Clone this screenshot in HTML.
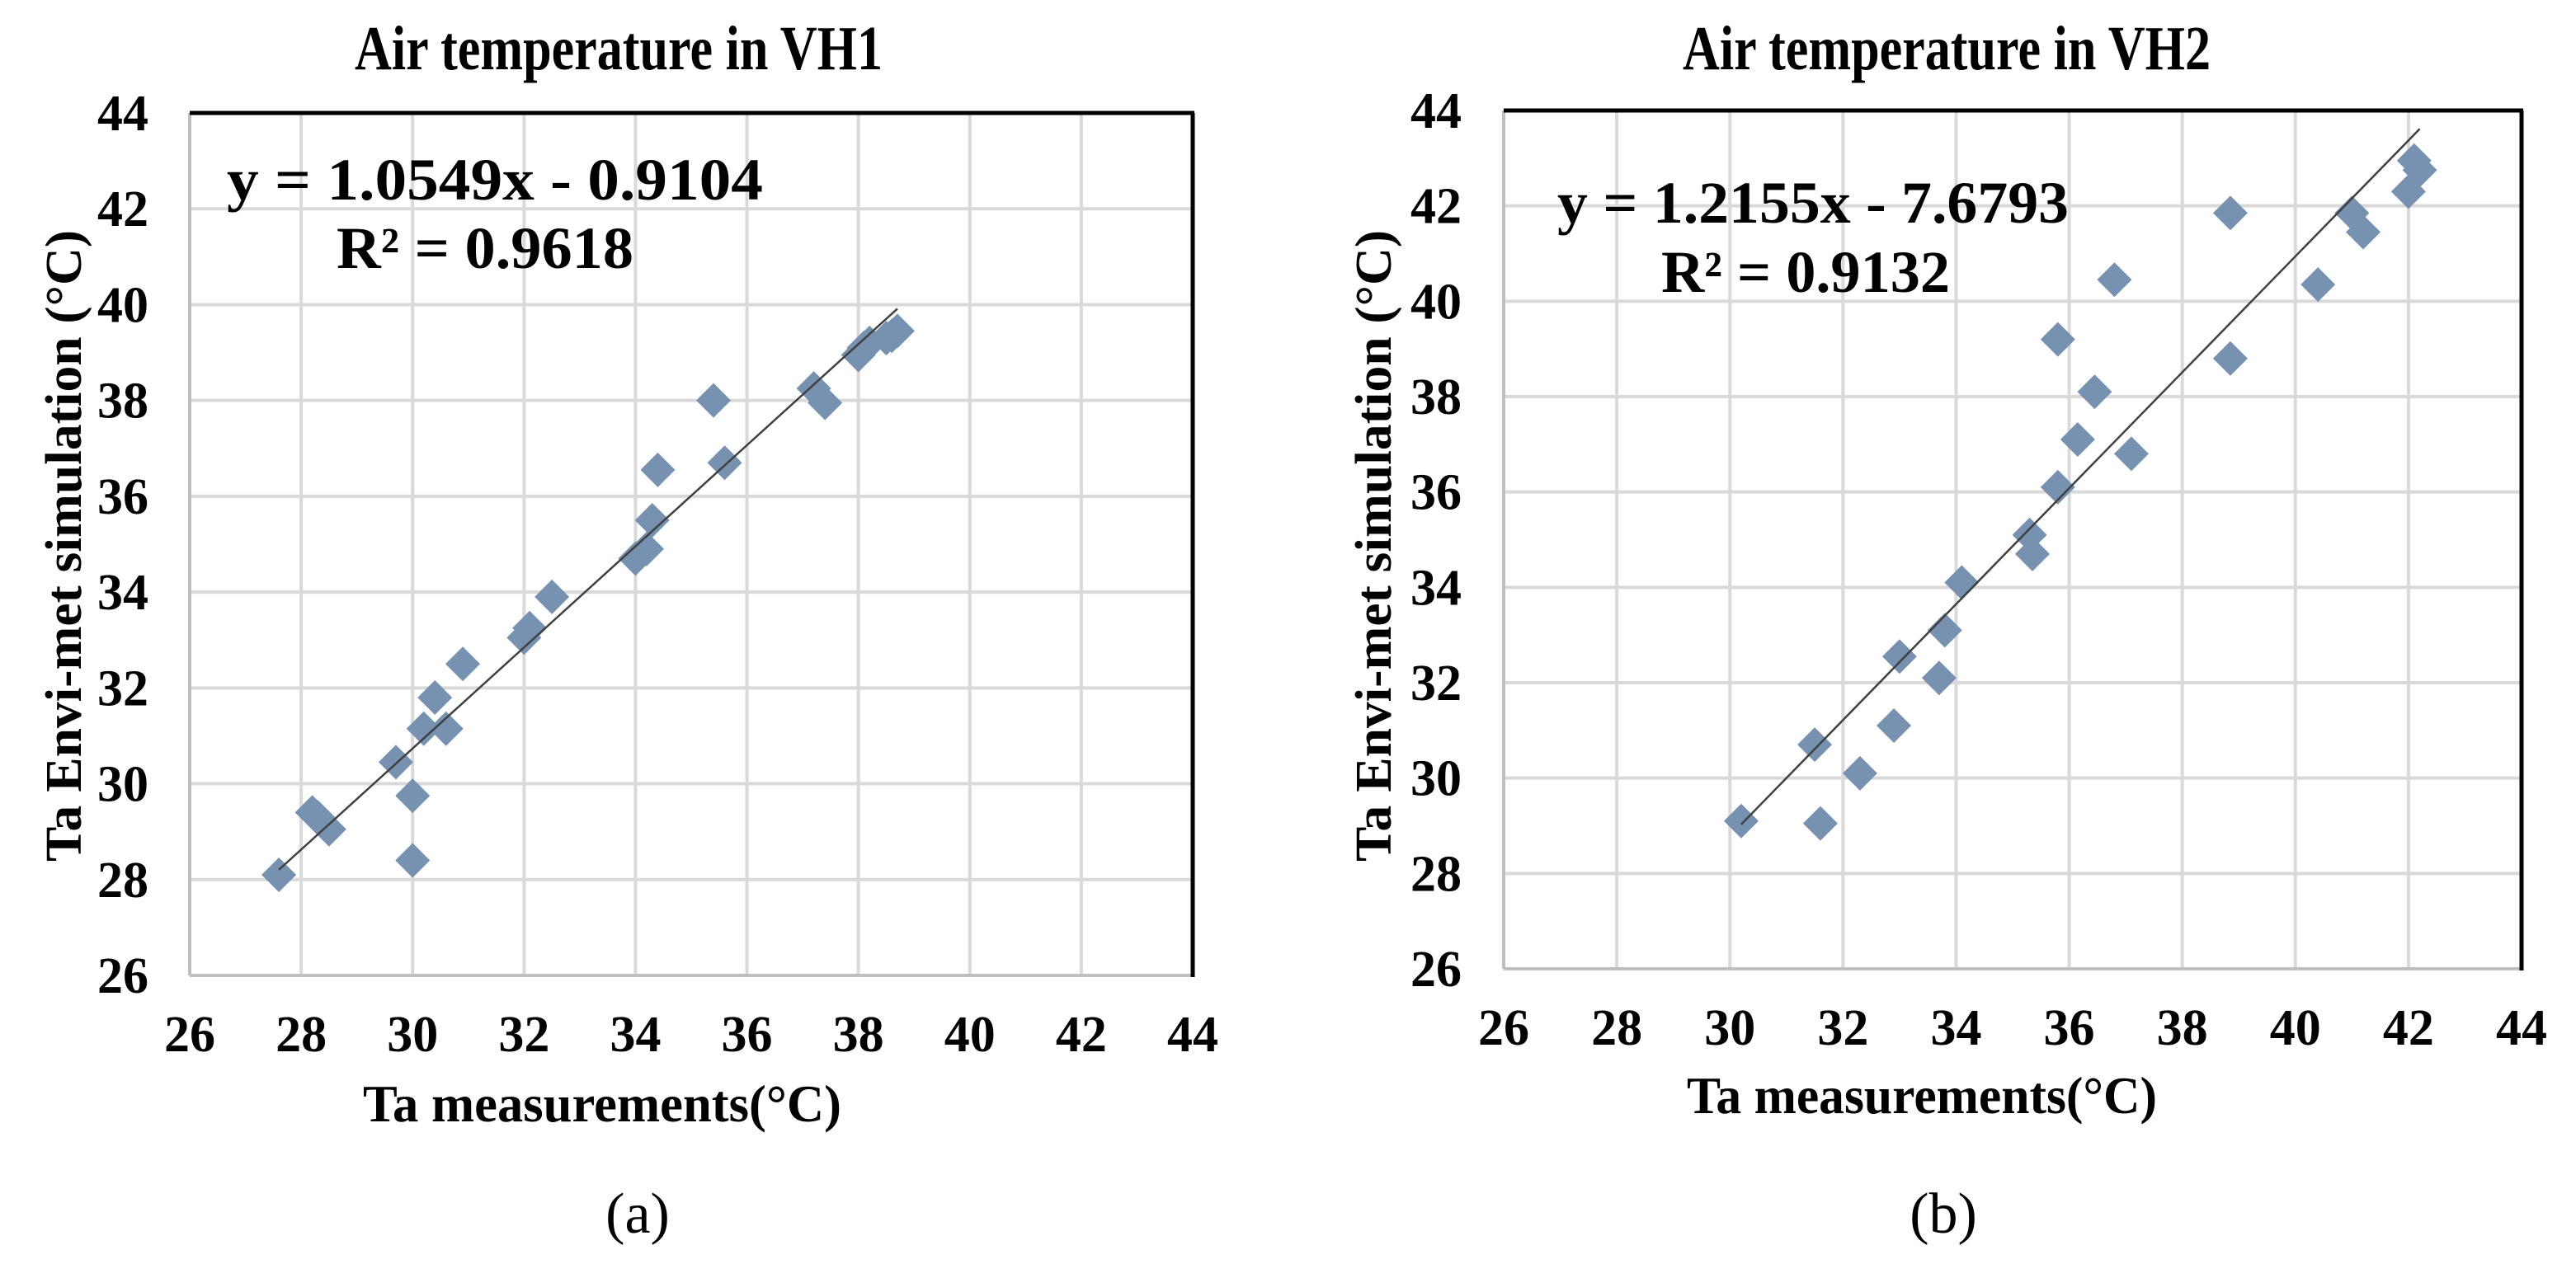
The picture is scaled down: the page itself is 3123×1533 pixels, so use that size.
<!DOCTYPE html>
<html><head><meta charset="utf-8"><style>
html,body{margin:0;padding:0;background:#fff;}
svg{display:block;font-family:"Liberation Serif",serif;}
</style></head><body>
<svg id="fig" width="3123" height="1533" viewBox="0 0 3123 1533" xmlns="http://www.w3.org/2000/svg"></svg>
<script>
const xTicks=[26,28,30,32,34,36,38,40,42,44];
const yTicks=[26,28,30,32,34,36,38,40,42,44];
const vh1X=[27.6,28.2,28.3,28.5,29.7,30.0,30.0,30.2,30.4,30.6,30.9,32.0,32.1,32.5,34.0,34.2,34.3,34.4,35.4,35.6,37.2,37.4,38.0,38.1,38.2,38.5,38.6,38.7];
const vh1Y=[28.1,29.4,29.3,29.05,30.45,29.75,28.4,31.15,31.8,31.15,32.5,33.05,33.25,33.9,34.7,34.9,35.5,36.55,38.0,36.7,38.25,37.95,38.95,39.1,39.2,39.3,39.35,39.45];
const vh2X=[30.2,31.5,31.6,32.3,32.9,33.0,33.7,33.8,34.1,35.3,35.35,35.8,35.8,36.15,36.45,36.8,37.1,38.85,38.85,40.4,41.0,41.2,42.0,42.1,42.2];
const vh2Y=[29.1,30.7,29.05,30.1,31.1,32.55,32.1,33.1,34.1,35.1,34.7,36.1,39.2,37.1,38.1,40.45,36.8,41.85,38.8,40.35,41.85,41.45,42.3,42.95,42.75];
const vh1Fit=[1.0549,-0.9104];
const vh2Fit=[1.2155,-7.6793];

const NS="http://www.w3.org/2000/svg";
const svg=document.getElementById('fig');
function mk(tag,attrs,parent){const e=document.createElementNS(NS,tag);for(const k in attrs)e.setAttribute(k,attrs[k]);(parent||svg).appendChild(e);return e;}

function chart(cfg){
  const g=mk('g',{});
  
  
  const xs=v=>cfg.L+(v-26)/18*(cfg.R-cfg.L);
  const ys=v=>cfg.B-(v-26)/18*(cfg.B-cfg.T);
  xTicks.forEach(t=>{if(t>26&&t<44){const l=mk('line',{x1:xs(t),x2:xs(t),y1:cfg.T,y2:cfg.B,stroke:'#d9d9d9','stroke-width':4},g);
    }});
  yTicks.forEach(t=>{if(t>26&&t<44){const l=mk('line',{x1:cfg.L,x2:cfg.R,y1:ys(t),y2:ys(t),stroke:'#d9d9d9','stroke-width':4},g);
    }});
  let a=mk('line',{x1:cfg.L,x2:cfg.L,y1:cfg.T,y2:cfg.B,stroke:'#bfbfbf','stroke-width':4},g);
  
  a=mk('line',{x1:cfg.L,x2:cfg.R,y1:cfg.B,y2:cfg.B,stroke:'#bfbfbf','stroke-width':4},g);
  
  a=mk('line',{x1:cfg.L,x2:cfg.R+2,y1:cfg.T,y2:cfg.T,stroke:'#000','stroke-width':5},g);
  
  a=mk('line',{x1:cfg.R,x2:cfg.R,y1:cfg.T,y2:cfg.B+2,stroke:'#000','stroke-width':5},g);
  
  xTicks.forEach(t=>{const e=mk('text',{x:xs(t),y:cfg.xtb,'text-anchor':'middle','font-size':62,'font-weight':'bold'},g);e.textContent=t;
    });
  yTicks.forEach(t=>{const e=mk('text',{x:cfg.ytx,y:ys(t)+21,'text-anchor':'end','font-size':62,'font-weight':'bold'},g);e.textContent=t;
    });
  cfg.X.forEach((v,i)=>{const cx=xs(v),cy=ys(cfg.Y[i]),r=21;
    const p=mk('polygon',{points:`${cx},${cy-r} ${cx+r},${cy} ${cx},${cy+r} ${cx-r},${cy}`,fill:'#7692b0'},g);
    });
  const x0=Math.min(...cfg.X),x1=Math.max(...cfg.X);
  const tl=mk('line',{x1:xs(x0),y1:ys(cfg.fit[0]*x0+cfg.fit[1]),x2:xs(x1),y2:ys(cfg.fit[0]*x1+cfg.fit[1]),stroke:'#404040','stroke-width':2.5},g);
  
  let t=mk('text',{x:cfg.titleX-320,y:84,'font-size':76,'font-weight':'bold',textLength:640,lengthAdjust:'spacingAndGlyphs'},g);t.textContent=cfg.title;
  
  t=mk('text',{x:cfg.eqX,y:cfg.eqY,'font-size':72,'font-weight':'bold',textLength:cfg.eqW,lengthAdjust:'spacingAndGlyphs'},g);t.textContent=cfg.eq;
  
  t=mk('text',{x:cfg.r2X,y:cfg.r2Y,'font-size':72,'font-weight':'bold',textLength:cfg.r2W,lengthAdjust:'spacingAndGlyphs'},g);t.textContent=cfg.r2;
  
  t=mk('text',{x:cfg.xtX,y:cfg.xtY,'text-anchor':'middle','font-size':64,'font-weight':'bold',textLength:cfg.xtW,lengthAdjust:'spacingAndGlyphs'},g);t.textContent='Ta measurements(°C)';
  
  t=mk('text',{x:0,y:0,'text-anchor':'middle','font-size':62,'font-weight':'bold',textLength:766,lengthAdjust:'spacingAndGlyphs',transform:`translate(${cfg.ytitleX},${cfg.ytitleY}) rotate(-90)`},g);t.textContent='Ta Envi-met simulation  (°C)';
  t.setAttribute('xml:space','preserve');
  
  t=mk('text',{x:cfg.capX,y:1495,'text-anchor':'middle','font-size':70},g);t.textContent=cfg.cap;
  
}
chart({id:'vh1',L:230,R:1446,T:137,B:1183,X:vh1X,Y:vh1Y,fit:vh1Fit,xtb:1275,ytx:180,title:'Air temperature  in VH1',titleX:750,
  eq:'y = 1.0549x - 0.9104',eqX:275,eqY:242,eqW:650,r2:'R² = 0.9618',r2X:408,r2Y:325,r2W:360,xtX:730,xtY:1360,xtW:580,ytitleX:98,ytitleY:662,cap:'(a)',capX:773});
chart({id:'vh2',L:1823,R:3057,T:134,B:1175,X:vh2X,Y:vh2Y,fit:vh2Fit,xtb:1267,ytx:1772,title:'Air temperature  in VH2',titleX:2360,
  eq:'y = 1.2155x - 7.6793',eqX:1888,eqY:270,eqW:620,r2:'R² = 0.9132',r2X:2014,r2Y:354,r2W:350,xtX:2330,xtY:1350,xtW:570,ytitleX:1686,ytitleY:662,cap:'(b)',capX:2356});
</script>
</body></html>
